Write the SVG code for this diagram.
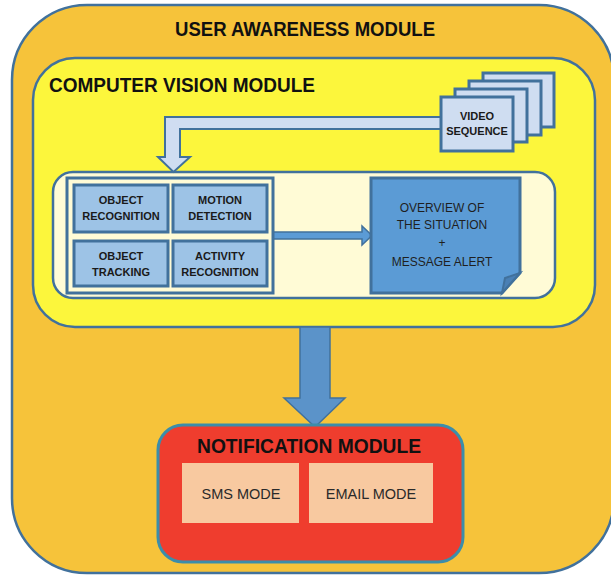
<svg xmlns="http://www.w3.org/2000/svg" width="611" height="581" viewBox="0 0 611 581">
<style>
.hdr{font-family:"Liberation Sans",Arial,sans-serif;font-weight:bold;font-size:20px;fill:#111;}
.sm{font-family:"Liberation Sans",Arial,sans-serif;font-weight:bold;font-size:11px;fill:#1a1a1a;text-anchor:middle;}
.reg{font-family:"Liberation Sans",Arial,sans-serif;font-size:12px;fill:#1f1f1f;text-anchor:middle;}
.mode{font-family:"Liberation Sans",Arial,sans-serif;font-size:14.5px;fill:#2a2a2a;text-anchor:middle;}
.card{fill:#CFDDF1;stroke:#41719C;stroke-width:3;}
.mod{fill:#9DC3E6;stroke:#41719C;stroke-width:3;}
.peach{fill:#F8C9A0;}
</style>
<rect width="611" height="581" fill="#ffffff"/>
<g id="user-awareness-module">
<rect x="12" y="5" width="602" height="568" rx="75" fill="#F6C33A" stroke="#41719C" stroke-width="2.5"/>
<text class="hdr" x="175" y="36" textLength="260" lengthAdjust="spacingAndGlyphs">USER AWARENESS MODULE</text>
</g>
<g id="computer-vision-module">
<rect x="33" y="58" width="562" height="269" rx="42" fill="#FCF63C" stroke="#41719C" stroke-width="2.5"/>
<text class="hdr" x="49" y="92" textLength="266" lengthAdjust="spacingAndGlyphs">COMPUTER VISION MODULE</text>
</g>
<g id="processing-area">
<rect x="53" y="172" width="502" height="126" rx="20" fill="#FFFBD6" stroke="#41719C" stroke-width="2.5"/>
</g>
<g id="connectors">
<path d="M445,117 H165 V157 H158 L173.5,172 L190,157 H180 V129 H445 Z" fill="#CFDDF1" stroke="#41719C" stroke-width="2"/>
<path d="M273,232 H362 V226 L372,235.5 L362,245 V239 H273 Z" fill="#5B9BD5" stroke="#41719C" stroke-width="1.5"/>
<path d="M300,327 H330 V398 H345 L315,427 L284,398 H300 Z" fill="#5B93C9" stroke="#41719C" stroke-width="1.5"/>
</g>
<g id="video-sequence">
<rect class="card" x="483" y="73" width="71" height="54"/>
<rect class="card" x="469" y="81" width="72" height="54"/>
<rect class="card" x="455" y="89" width="72" height="53"/>
<rect class="card" x="441" y="97" width="72" height="54"/>
<text class="sm" x="477" y="120">VIDEO</text>
<text class="sm" x="477" y="135">SEQUENCE</text>
</g>
<g id="analysis-group">
<rect x="67" y="178" width="206" height="115" fill="#FFFBD6" stroke="#41719C" stroke-width="3"/>
</g>
<g id="object-recognition">
<rect class="mod" x="74" y="185" width="94" height="47"/>
<text class="sm" x="121" y="204">OBJECT</text>
<text class="sm" x="121" y="220">RECOGNITION</text>
</g>
<g id="motion-detection">
<rect class="mod" x="173" y="185" width="94" height="47"/>
<text class="sm" x="220" y="204">MOTION</text>
<text class="sm" x="220" y="220">DETECTION</text>
</g>
<g id="object-tracking">
<rect class="mod" x="74" y="241" width="94" height="45"/>
<text class="sm" x="121" y="260">OBJECT</text>
<text class="sm" x="121" y="276">TRACKING</text>
</g>
<g id="activity-recognition">
<rect class="mod" x="173" y="241" width="94" height="45"/>
<text class="sm" x="220" y="260">ACTIVITY</text>
<text class="sm" x="220" y="276">RECOGNITION</text>
</g>
<g id="overview">
<path d="M371,178 H520 V273 L502,293 H371 Z" fill="#5B9BD5" stroke="#41719C" stroke-width="3" stroke-linejoin="miter"/>
<path d="M520,273 L505,278 L502,293 Z" fill="#4A80B5" stroke="#41719C" stroke-width="2"/>
<text class="reg" x="442" y="212">OVERVIEW OF</text>
<text class="reg" x="442" y="229">THE SITUATION</text>
<text class="reg" x="442" y="247">+</text>
<text class="reg" x="442" y="266">MESSAGE ALERT</text>
</g>
<g id="notification-module">
<rect x="158" y="425" width="305" height="137" rx="25" fill="#EF3D2E" stroke="#3C8DAA" stroke-width="3"/>
<text class="hdr" x="197" y="453" textLength="224" lengthAdjust="spacingAndGlyphs">NOTIFICATION MODULE</text>
</g>
<g id="sms-mode">
<rect class="peach" x="182" y="463" width="117" height="60"/>
<text class="mode" x="241" y="499">SMS MODE</text>
</g>
<g id="email-mode">
<rect class="peach" x="309" y="463" width="124" height="60"/>
<text class="mode" x="371" y="499">EMAIL MODE</text>
</g>
</svg>
